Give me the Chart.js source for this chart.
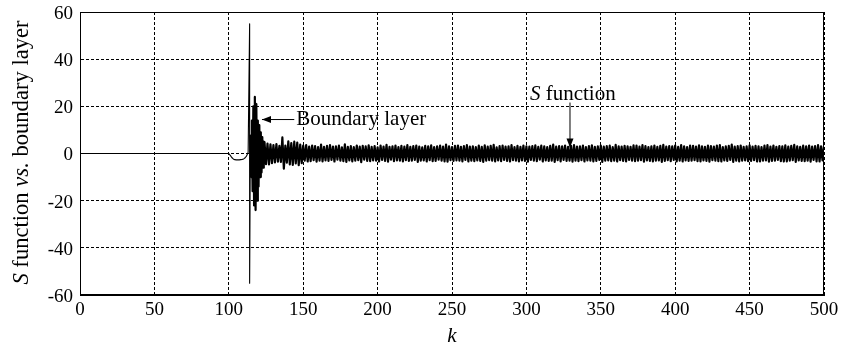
<!DOCTYPE html>
<html>
<head>
<meta charset="utf-8">
<script src="https://cdn.jsdelivr.net/npm/chart.js@4"></script>
<style>
  html, body { margin: 0; padding: 0; background: #fff; }
  #wrap { width: 842px; height: 347px; }
</style>
</head>
<body>
<div id="wrap"><canvas id="sf-chart" width="842" height="347"></canvas></div>
<script>
// flat part before the switching starts
const flatK = [0, 100];
const flatS = [0, 0];

// small dip just after k = 100
const dipK = [101, 102, 103, 104, 105, 106, 107, 108, 109, 110, 111, 112, 113];
const dipS = [-0.8, -1.7, -2.3, -2.6, -2.7, -2.7, -2.7, -2.6, -2.5, -2.3, -1.8, -1.0, 0.5];

// big spike and the boundary layer burst
const burstK = [114, 114, 114.5, 115, 115.5, 116, 116.5, 117, 117.5, 118, 118.5, 119, 119.5, 120, 120.5, 121, 121.5, 122, 122.5, 123, 123.5];
const burstS = [55, -55, 8, -10, 14, -16, 20, -22, 24, -24, 21, -20, 14, -14, 12, -10, 9, -8, 7, -6, 5];

// chattering of S after the burst, one value per step from k = 124 to 500
const noiseStartK = 124;
const noiseS = [
  4.8,-4.5,4.2,-4.6,3.9,-4.1,3.6,-3.8,4.0,-3.5,
  3.2,-3.6,6.8,-6.4,3.4,-3.9,5.2,-4.6,4.4,-4.8,
  5.0,-4.2,4.6,-4.9,3.8,-4.1,3.3,-3.0,3.6,-3.4,
  2.9,-3.2,3.4,-2.8,3.1,-3.5,2.7,-3.0,3.8,-3.3,
  2.8,-2.9,3.2,-3.1,3.6,-2.7,2.9,-3.4,3.0,-2.6,
  3.3,-3.0,2.6,-3.2,3.9,-3.6,2.8,-2.9,3.1,-3.3,
  2.7,-3.0,3.4,-2.8,2.9,-3.7,3.2,-2.6,3.0,-3.1,
  3.5,-3.2,2.8,-2.9,3.1,-3.0,2.6,-3.4,3.3,-2.7,
  2.9,-3.1,3.7,-3.5,2.8,-2.6,3.0,-3.2,3.4,-2.9,
  2.7,-3.0,3.2,-3.3,2.9,-2.8,3.6,-3.1,2.8,-3.0,
  3.1,-2.7,3.3,-3.6,2.9,-3.0,2.6,-2.9,3.2,-3.4,
  3.0,-2.8,3.5,-3.2,2.7,-3.1,3.0,-2.6,3.3,-3.0,
  2.9,-3.3,3.8,-3.5,3.0,-2.8,2.7,-3.1,3.2,-2.9,
  3.4,-3.0,2.8,-3.3,3.1,-2.7,3.6,-3.4,2.9,-3.0,
  3.0,-3.2,2.7,-2.9,3.3,-3.1,2.8,-3.6,3.5,-3.0,
  2.9,-2.8,3.2,-3.0,3.7,-3.3,2.6,-2.9,3.1,-3.2,
  3.3,-2.7,2.9,-3.1,3.0,-3.4,3.6,-2.8,2.7,-3.0,
  3.2,-3.3,2.8,-2.9,3.4,-3.1,3.0,-3.5,2.9,-2.7,
  3.1,-3.0,3.5,-3.2,2.8,-2.6,3.3,-3.4,3.0,-2.9,
  2.7,-3.1,3.2,-3.0,3.8,-3.6,2.9,-2.8,3.1,-3.3,
  3.0,-2.7,3.4,-3.1,2.8,-3.0,3.2,-3.5,3.6,-3.0,
  2.9,-3.2,3.0,-2.8,3.3,-3.4,2.7,-2.9,3.1,-3.0,
  3.5,-3.3,2.8,-3.1,3.0,-2.7,3.4,-3.6,2.9,-3.0,
  3.1,-2.9,3.3,-3.2,2.7,-3.0,3.7,-3.4,3.0,-2.8,
  2.9,-3.1,3.2,-3.3,3.0,-2.7,2.8,-3.0,3.5,-3.2,
  3.3,-3.0,2.9,-2.8,3.6,-3.5,3.1,-2.9,2.7,-3.1,
  3.0,-3.3,3.4,-3.0,2.8,-2.9,3.2,-3.6,3.7,-3.1,
  2.9,-2.8,3.1,-3.2,3.0,-2.7,3.4,-3.3,2.8,-3.0,
  3.6,-3.4,3.0,-2.9,2.7,-3.1,3.3,-3.0,3.2,-2.8,
  2.9,-3.2,3.5,-3.3,3.0,-2.9,2.8,-3.1,3.4,-3.5,
  3.1,-2.8,2.9,-3.0,3.3,-3.2,3.6,-3.4,2.7,-2.9,
  3.0,-3.1,3.2,-2.7,3.8,-3.6,2.9,-3.0,3.1,-3.3,
  3.4,-3.0,2.8,-2.9,3.0,-3.2,3.5,-3.1,2.9,-2.8,
  3.2,-3.4,3.0,-3.3,2.7,-3.0,3.3,-2.9,3.6,-3.5,
  2.9,-3.1,3.4,-3.0,2.8,-2.7,3.1,-3.2,3.0,-3.4,
  3.5,-3.3,2.9,-3.0,3.2,-2.8,3.7,-3.6,3.0,-2.9,
  2.8,-3.1,3.3,-3.2,3.0,-3.0,3.4,-3.5,2.9,-2.7,
  3.1,-3.3,3.6,-3.4,3.0,-2.9,3.2
];

// axis ticks
const xTicks = [0, 50, 100, 150, 200, 250, 300, 350, 400, 450, 500];
const yTicks = [-60, -40, -20, 0, 20, 40, 60];

const FONT = '"Liberation Serif", "Times New Roman", serif';

// build the point list in drawing order
const points = [];
flatK.forEach((k, i) => points.push({ x: k, y: flatS[i] }));
dipK.forEach((k, i) => points.push({ x: k, y: dipS[i] }));
burstK.forEach((k, i) => points.push({ x: k, y: burstS[i] }));
noiseS.forEach((v, i) => points.push({ x: noiseStartK + i, y: v }));

function arrow(ctx, x1, y1, x2, y2) {
  const a = Math.atan2(y2 - y1, x2 - x1);
  ctx.beginPath();
  ctx.moveTo(x1, y1);
  ctx.lineTo(x2, y2);
  ctx.stroke();
  ctx.beginPath();
  ctx.moveTo(x2, y2);
  ctx.lineTo(x2 - 9 * Math.cos(a) + 3.5 * Math.sin(a), y2 - 9 * Math.sin(a) - 3.5 * Math.cos(a));
  ctx.lineTo(x2 - 9 * Math.cos(a) - 3.5 * Math.sin(a), y2 - 9 * Math.sin(a) + 3.5 * Math.cos(a));
  ctx.closePath();
  ctx.fill();
}

// draw mixed italic / upright text runs starting at x
function runs(ctx, parts, x, y, size) {
  parts.forEach(p => {
    ctx.font = (p[1] ? 'italic ' : '') + size + 'px ' + FONT;
    ctx.fillText(p[0], x, y);
    x += ctx.measureText(p[0]).width;
  });
}
function runsWidth(ctx, parts, size) {
  let w = 0;
  parts.forEach(p => {
    ctx.font = (p[1] ? 'italic ' : '') + size + 'px ' + FONT;
    w += ctx.measureText(p[0]).width;
  });
  return w;
}

const decor = {
  id: 'decor',
  afterDraw(chart) {
    const ctx = chart.ctx;
    const a = chart.chartArea;
    const xs = chart.scales.x, ys = chart.scales.y;
    ctx.save();
    ctx.strokeStyle = '#000';
    ctx.fillStyle = '#000';
    ctx.lineWidth = 1;
    ctx.setLineDash([]);
    ctx.strokeRect(a.left + 0.5, a.top + 0.5, a.right - a.left - 1, a.bottom - a.top - 1);

    // Boundary layer label
    ctx.textBaseline = 'middle';
    arrow(ctx, xs.getPixelForValue(144), ys.getPixelForValue(14.4), xs.getPixelForValue(122.3), ys.getPixelForValue(14.4));
    runs(ctx, [['Boundary layer', false]], xs.getPixelForValue(145.3), ys.getPixelForValue(14.6), 21);

    // S function label
    runs(ctx, [['S', true], [' function', false]], xs.getPixelForValue(302.4), ys.getPixelForValue(25.2), 21);
    arrow(ctx, xs.getPixelForValue(329.3), ys.getPixelForValue(21.6), xs.getPixelForValue(329.3), ys.getPixelForValue(2.5));

    // x title
    ctx.textAlign = 'center';
    ctx.textBaseline = 'alphabetic';
    ctx.font = 'italic 21px ' + FONT;
    ctx.fillText('k', (a.left + a.right) / 2, 342);

    // y title
    const yParts = [['S', true], [' function ', false], ['vs.', true], [' boundary layer', false]];
    const w = runsWidth(ctx, yParts, 22.6);
    ctx.translate(28, (a.top + a.bottom) / 2 - 1);
    ctx.rotate(-Math.PI / 2);
    ctx.textAlign = 'left';
    runs(ctx, yParts, -w / 2, 0, 22.6);
    ctx.restore();
  }
};

new Chart(document.getElementById('sf-chart').getContext('2d'), {
  type: 'line',
  data: {
    datasets: [{
      data: points,
      borderColor: '#000',
      borderWidth: 1.1,
      borderJoinStyle: 'round',
      pointRadius: 0,
      tension: 0,
      fill: false,
      // the dense chattering band is drawn heavier so it prints as a solid band
      segment: { borderWidth: c => (c.p0.parsed.x >= 114.5 ? 2.2 : undefined) }
    }]
  },
  options: {
    responsive: false,
    animation: false,
    devicePixelRatio: 1,
    parsing: false,
    layout: { padding: { top: 12, right: 18, left: 0, bottom: 0 } },
    plugins: { legend: { display: false }, tooltip: { enabled: false } },
    scales: {
      x: {
        type: 'linear',
        min: 0,
        max: 500,
        afterFit: s => { s.height = 52; s.paddingLeft = 0; s.paddingRight = 0; },
        afterBuildTicks: s => { s.ticks = xTicks.map(v => ({ value: v })); },
        ticks: { color: '#000', font: { family: FONT, size: 19 }, padding: 4, maxRotation: 0, autoSkip: false },
        grid: { color: '#000', lineWidth: 1, drawTicks: false },
        border: { display: true, color: '#000', dash: [3, 2] }
      },
      y: {
        type: 'linear',
        min: -60,
        max: 60,
        afterFit: s => { s.width = 80; s.paddingTop = 0; s.paddingBottom = 0; },
        afterBuildTicks: s => { s.ticks = yTicks.map(v => ({ value: v })); },
        ticks: { color: '#000', font: { family: FONT, size: 19 }, padding: 7, labelOffset: 2, autoSkip: false },
        grid: { color: '#000', lineWidth: 1, drawTicks: false },
        border: { display: true, color: '#000', dash: [3, 2] }
      }
    }
  },
  plugins: [decor]
});
</script>
</body>
</html>
